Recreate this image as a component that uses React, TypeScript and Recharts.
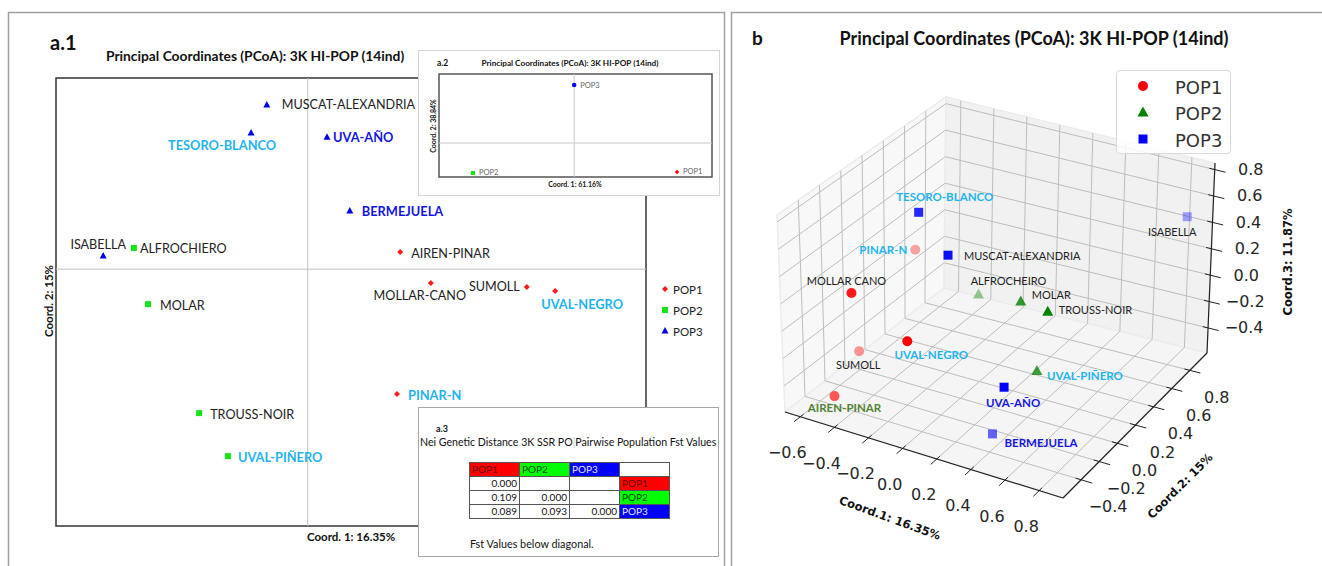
import React from 'react';
import { ScatterChart, Scatter, XAxis, YAxis, ReferenceLine, Customized } from 'recharts';

const FONT = 'Lato, "Liberation Sans", Arial, sans-serif';
const MPL = '"DejaVu Sans", sans-serif';

// ---- a.1: individuals on Coord. 1 / Coord. 2 ----
const indNames = [
  'MUSCAT-ALEXANDRIA', 'TESORO-BLANCO', 'UVA-AÑO', 'BERMEJUELA', 'ISABELLA', 'ALFROCHIERO', 'AIREN-PINAR',
  'MOLLAR-CANO', 'SUMOLL', 'UVAL-NEGRO', 'MOLAR', 'PINAR-N', 'TROUSS-NOIR', 'UVAL-PIÑERO',
];
const indPop = [3, 3, 3, 3, 3, 2, 1, 1, 1, 1, 2, 1, 2, 2];
const coord1 = [-0.104, -0.144, 0.049, 0.107, -0.52, -0.442, 0.235, 0.313, 0.557, 0.629, -0.406, 0.227, -0.276, -0.203];
const coord2 = [0.55, 0.456, 0.442, 0.195, 0.044, 0.071, 0.057, -0.046, -0.06, -0.073, -0.117, -0.418, -0.482, -0.626];

// ---- a.2: population centroids ----
const popNames = ['POP1', 'POP2', 'POP3'];
const popCoord1 = [0.761, -0.749, 0.0];
const popCoord2 = [-0.281, -0.291, 0.563];

// ---- a.3: pairwise Fst (below diagonal) ----
const fstRow1 = [0.0];
const fstRow2 = [0.109, 0.0];
const fstRow3 = [0.089, 0.093, 0.0];

// ---- b: 3D PCoA ----
const b3Names = [
  'TESORO-BLANCO', 'PINAR-N', 'MUSCAT-ALEXANDRIA', 'MOLLAR CANO', 'ALFROCHEIRO', 'MOLAR', 'TROUSS-NOIR',
  'ISABELLA', 'SUMOLL', 'UVAL-NEGRO', 'AIREN-PINAR', 'UVAL-PIÑERO', 'UVA-AÑO', 'BERMEJUELA',
];
const b3Pop = [3, 1, 3, 1, 2, 2, 2, 3, 1, 1, 1, 2, 3, 3];
const b3C1 = [-0.55, -0.67, -0.52, -0.47, -0.38, 0.02, 0.23, 0.83, -0.53, -0.29, -0.49, 0.39, 0.33, 0.44];
const b3C2 = [0.51, 0.67, 0.75, -0.28, 0.83, 0.59, 0.51, 0.91, -0.12, -0.04, -0.44, 0.12, -0.12, -0.44];
const b3C3 = [0.3, -0.11, -0.15, 0.18, -0.45, -0.23, -0.19, 0.46, -0.36, -0.25, -0.49, -0.33, -0.32, -0.42];
const ticks1 = [-0.6, -0.4, -0.2, 0.0, 0.2, 0.4, 0.6, 0.8];
const ticks2 = [-0.4, -0.2, 0.0, 0.2, 0.4, 0.6, 0.8];
const ticks3 = [-0.4, -0.2, 0.0, 0.2, 0.4, 0.6, 0.8];

// colours
const BLACK = '#222';
const SKY = '#1fb4f0';
const NAVY = '#1414e6';
const OLIVE = '#548235';

// label placement (dx, dy, anchor, colour, bold) for a.1
const a1Label: Record<string, [number, number, string, string, boolean]> = {
  'MUSCAT-ALEXANDRIA': [15, 0, 'start', BLACK, false],
  'TESORO-BLANCO': [-29, 12, 'middle', SKY, true],
  'UVA-AÑO': [6, 0, 'start', NAVY, true],
  'BERMEJUELA': [12, 0, 'start', NAVY, true],
  'ISABELLA': [-5, -12, 'middle', BLACK, false],
  'ALFROCHIERO': [6, 1, 'start', BLACK, false],
  'AIREN-PINAR': [11, 1, 'start', BLACK, false],
  'MOLLAR-CANO': [-11, 13, 'middle', BLACK, false],
  'SUMOLL': [-7, -1, 'end', BLACK, false],
  'UVAL-NEGRO': [27, 13, 'middle', SKY, true],
  'MOLAR': [12, 1, 'start', BLACK, false],
  'PINAR-N': [11, 1, 'start', SKY, true],
  'TROUSS-NOIR': [11, 1, 'start', BLACK, false],
  'UVAL-PIÑERO': [10, 1, 'start', SKY, true],
};

// label placement + marker alpha for b
const bLabel: Record<string, [number, number, string, string, boolean, number]> = {
  'TESORO-BLANCO': [26, -16, 'middle', SKY, true, 0.85],
  'PINAR-N': [-8, 0, 'end', SKY, true, 0.35],
  'MUSCAT-ALEXANDRIA': [16, 0, 'start', BLACK, false, 0.95],
  'MOLLAR CANO': [-5, -12, 'middle', BLACK, false, 0.9],
  'ALFROCHEIRO': [30, -14, 'middle', BLACK, false, 0.4],
  'MOLAR': [11, -7, 'start', BLACK, false, 0.8],
  'TROUSS-NOIR': [11, -2, 'start', BLACK, false, 1],
  'ISABELLA': [-15, 15, 'middle', BLACK, false, 0.35],
  'SUMOLL': [-1, 13, 'middle', BLACK, false, 0.4],
  'UVAL-NEGRO': [24, 13, 'middle', SKY, true, 1],
  'AIREN-PINAR': [10, 11, 'middle', OLIVE, true, 0.65],
  'UVAL-PIÑERO': [10, 5, 'start', SKY, true, 0.75],
  'UVA-AÑO': [9, 15, 'middle', NAVY, true, 1],
  'BERMEJUELA': [12, 9, 'start', NAVY, true, 0.6],
};

const a1Data = indNames.map((name, i) => ({ name, pop: indPop[i], x: coord1[i], y: coord2[i] }));
const a2Data = popNames.map((name, i) => ({ name, pop: i + 1, x: popCoord1[i], y: popCoord2[i] }));

// 3D box limits and the screen position of its corners (page px), index = x y z (0 min, 1 max)
const LIM1 = [-0.69, 0.94];
const LIM2 = [-0.6, 0.99];
const LIM3 = [-0.59, 0.85];
const CORNER: Record<string, number[]> = {
  '000': [785, 412], '100': [1063, 498], '010': [944, 288], '110': [1207, 353],
  '001': [777, 215], '101': [1063, 293], '011': [946, 97], '111': [1215, 163],
};
const lerp = (a: number[], b: number[], t: number) => [a[0] + (b[0] - a[0]) * t, a[1] + (b[1] - a[1]) * t];
function project(x: number, y: number, z: number) {
  const u = (x - LIM1[0]) / (LIM1[1] - LIM1[0]);
  const v = (y - LIM2[0]) / (LIM2[1] - LIM2[0]);
  const w = (z - LIM3[0]) / (LIM3[1] - LIM3[0]);
  const c = CORNER;
  const lo = lerp(lerp(c['000'], c['100'], u), lerp(c['010'], c['110'], u), v);
  const hi = lerp(lerp(c['001'], c['101'], u), lerp(c['011'], c['111'], u), v);
  return lerp(lo, hi, w);
}

const bData = b3Names.map((name, i) => {
  const p = project(b3C1[i], b3C2[i], b3C3[i]);
  return { name, pop: b3Pop[i], px: p[0], py: p[1] };
});

const fmt = (t: number) => t.toFixed(1).replace('-', '\u2212');

function a1Marker(pop: number, cx: number, cy: number) {
  if (pop === 1) return <polygon points={`${cx},${cy - 3} ${cx + 3},${cy} ${cx},${cy + 3} ${cx - 3},${cy}`} fill="#ff1a1a" />;
  if (pop === 2) return <rect x={cx - 3} y={cy - 3} width={6} height={6} fill="#14e614" />;
  return <polygon points={`${cx},${cy - 4} ${cx + 3.5},${cy + 2.5} ${cx - 3.5},${cy + 2.5}`} fill="#0000e6" />;
}

const A1Shape = (props: any) => {
  const { cx, cy, payload } = props;
  const [dx, dy, anchor, color, bold] = a1Label[payload.name];
  return (
    <g>
      {a1Marker(payload.pop, cx, cy)}
      <text x={cx + dx} y={cy + dy} textAnchor={anchor} dominantBaseline="central" fill={color}
        fontFamily={FONT} fontSize={bold ? 12.8 : 12.6} fontWeight={bold ? 700 : 400}>{payload.name}</text>
    </g>
  );
};

const A2Shape = (props: any) => {
  const { cx, cy, payload } = props;
  let m;
  if (payload.pop === 1) m = <polygon points={`${cx},${cy - 2.2} ${cx + 2.2},${cy} ${cx},${cy + 2.2} ${cx - 2.2},${cy}`} fill="#ff0000" />;
  else if (payload.pop === 2) m = <rect x={cx - 2} y={cy - 2} width={4} height={4} fill="#00ee00" />;
  else m = <circle cx={cx} cy={cy} r={2.3} fill="#0000ff" />;
  return (
    <g>
      {m}
      <text x={cx + 6} y={cy} dominantBaseline="central" fontFamily={FONT} fontSize={7.5} fill="#666">{payload.name}</text>
    </g>
  );
};

function bMarker(pop: number, cx: number, cy: number, op: number) {
  if (pop === 1) return <circle cx={cx} cy={cy} r={5} fill="#ff0000" fillOpacity={op} />;
  if (pop === 2) return <polygon points={`${cx},${cy - 6} ${cx + 5.5},${cy + 4} ${cx - 5.5},${cy + 4}`} fill="#008000" fillOpacity={op} />;
  return <rect x={cx - 4.5} y={cy - 4.5} width={9} height={9} fill="#0000ff" fillOpacity={op} />;
}

const BShape = (props: any) => {
  const { cx, cy, payload } = props;
  const [dx, dy, anchor, color, bold, op] = bLabel[payload.name];
  return (
    <g>
      {bMarker(payload.pop, cx, cy, op)}
      <text x={cx + dx} y={cy + dy} textAnchor={anchor} dominantBaseline="central" fill={color}
        fontFamily={FONT} fontSize={bold ? 11.5 : 11} fontWeight={bold ? 700 : 400}>{payload.name}</text>
    </g>
  );
};

const pts = (arr: number[][]) => arr.map((p) => `${p[0]},${p[1]}`).join(' ');

const Box3D = () => {
  const [x0, x1] = LIM1;
  const [y0, y1] = LIM2;
  const [z0, z1] = LIM3;
  const rx = x1 - x0;
  const ry = y1 - y0;
  const seg = (a: number[], b: number[], key: string, stroke: string, w: number) => (
    <line key={key} x1={a[0]} y1={a[1]} x2={b[0]} y2={b[1]} stroke={stroke} strokeWidth={w} />
  );
  const grid: any[] = [];
  const GC = '#bdbdbd';
  ticks2.forEach((t, i) => grid.push(seg(project(x0, t, z0), project(x0, t, z1), 'ly' + i, GC, 1)));
  ticks3.forEach((t, i) => grid.push(seg(project(x0, y0, t), project(x0, y1, t), 'lz' + i, GC, 1)));
  ticks1.forEach((t, i) => grid.push(seg(project(t, y1, z0), project(t, y1, z1), 'bx' + i, GC, 1)));
  ticks3.forEach((t, i) => grid.push(seg(project(x0, y1, t), project(x1, y1, t), 'bz' + i, GC, 1)));
  ticks1.forEach((t, i) => grid.push(seg(project(t, y0, z0), project(t, y1, z0), 'fx' + i, GC, 1)));
  ticks2.forEach((t, i) => grid.push(seg(project(x0, t, z0), project(x1, t, z0), 'fy' + i, GC, 1)));
  const AX = '#222';
  return (
    <g transform="translate(-733,-12)">
      <polygon points={pts([project(x0, y0, z0), project(x0, y1, z0), project(x0, y1, z1), project(x0, y0, z1)])}
        fill="#f8f8f8" stroke="#ececec" strokeWidth={1.5} />
      <polygon points={pts([project(x0, y1, z0), project(x1, y1, z0), project(x1, y1, z1), project(x0, y1, z1)])}
        fill="#f1f1f1" stroke="#ececec" strokeWidth={1.5} />
      <polygon points={pts([project(x0, y0, z0), project(x1, y0, z0), project(x1, y1, z0), project(x0, y1, z0)])}
        fill="#f5f5f5" stroke="#ececec" strokeWidth={1.5} />
      {grid}
      {seg(project(x0, y0, z0), project(x1, y0, z0), 'ax1', AX, 1.2)}
      {seg(project(x1, y0, z0), project(x1, y1, z0), 'ax2', AX, 1.2)}
      {seg(project(x1, y1, z0), project(x1, y1, z1), 'ax3', AX, 1.2)}
      {ticks1.map((t, i) => seg(project(t, y0 + 0.02 * ry, z0), project(t, y0 - 0.04 * ry, z0), 't1' + i, AX, 1))}
      {ticks2.map((t, i) => seg(project(x1 - 0.02 * rx, t, z0), project(x1 + 0.04 * rx, t, z0), 't2' + i, AX, 1))}
      {ticks3.map((t, i) => seg(project(x1 - 0.02 * rx, y1, t), project(x1 + 0.04 * rx, y1, t), 't3' + i, AX, 1))}
      {ticks1.map((t, i) => {
        const p = project(t, y0, z0);
        return <text key={'l1' + i} x={p[0] - 13} y={p[1] + 36} textAnchor="middle" dominantBaseline="central"
          fontFamily={MPL} fontSize={16} fill="#262626">{fmt(t)}</text>;
      })}
      {ticks2.map((t, i) => {
        const p = project(x1, t, z0);
        return <text key={'l2' + i} x={p[0] + 27} y={p[1] + 27} textAnchor="middle" dominantBaseline="central"
          fontFamily={MPL} fontSize={16} fill="#262626">{fmt(t)}</text>;
      })}
      {ticks3.map((t, i) => {
        const p = project(x1, y1, t);
        return <text key={'l3' + i} x={p[0] + 36} y={p[1]} textAnchor="middle" dominantBaseline="central"
          fontFamily={MPL} fontSize={16} fill="#262626">{fmt(t)}</text>;
      })}
      <text transform="translate(890,518) rotate(20)" textAnchor="middle" dominantBaseline="central"
        fontFamily={MPL} fontSize={11.5} fontWeight={700} fill="#111">Coord.1: 16.35%</text>
      <text transform="translate(1180,486) rotate(-45)" textAnchor="middle" dominantBaseline="central"
        fontFamily={MPL} fontSize={11.5} fontWeight={700} fill="#111">Coord.2: 15%</text>
      <text transform="translate(1288,262) rotate(-90)" textAnchor="middle" dominantBaseline="central"
        fontFamily={MPL} fontSize={11.5} fontWeight={700} fill="#111">Coord.3: 11.87%</text>
    </g>
  );
};

const cell = (bg: string, color: string, align: string): React.CSSProperties => ({
  background: bg, color, textAlign: align as any, border: '1px solid #555', padding: '0 2px', height: 13,
  lineHeight: '13px', overflow: 'hidden', whiteSpace: 'nowrap',
});

export default function App() {
  const fstRows = [fstRow1, fstRow2, fstRow3];
  const sideBg = ['#ff0000', '#00ff00', '#0000ff'];
  const sideFg = ['#6b0000', '#004400', '#e6e6ff'];
  return (
    <div style={{ position: 'absolute', left: 0, top: 0, width: 1322, height: 566, background: '#fff', overflow: 'hidden' }}>
      <svg width={1322} height={566} style={{ position: 'absolute', left: 0, top: 0 }}>
        <rect x={8.5} y={12.5} width={716} height={620} fill="none" stroke="#a0a0a0" strokeWidth={1.5} />
        <rect x={731.5} y={12.5} width={620} height={620} fill="none" stroke="#a0a0a0" strokeWidth={1.5} />
        <text x={50} y={50} fontFamily={FONT} fontSize={20} fontWeight={700} fill="#111">a.1</text>
        <text x={106} y={55} dominantBaseline="central" fontFamily={FONT} fontSize={13.8} fontWeight={700} fill="#111">
          Principal Coordinates (PCoA): 3K HI-POP (14ind)
        </text>
        <rect x={56} y={78} width={590} height={448} fill="none" stroke="#333" strokeWidth={1.5} />
        <text x={307} y={536} dominantBaseline="central" fontFamily={FONT} fontSize={11.5} fontWeight={700} fill="#111">
          Coord. 1: 16.35%
        </text>
        <text transform="translate(48,301) rotate(-90)" textAnchor="middle" dominantBaseline="central"
          fontFamily={FONT} fontSize={11.5} fontWeight={700} fill="#111">Coord. 2: 15%</text>
        {popNames.map((p, i) => (
          <g key={p}>
            {a1Marker(i + 1, 665, 289 + i * 21)}
            <text x={673} y={289 + i * 21} dominantBaseline="central" fontFamily={FONT} fontSize={11.5} fill={BLACK}>{p}</text>
          </g>
        ))}
        <text x={752} y={45} fontFamily={FONT} fontSize={19} fontWeight={700} fill="#111">b</text>
        <text x={1034} y={45} textAnchor="middle" fontFamily={FONT} fontSize={18} fontWeight={700} fill="#111">
          Principal Coordinates (PCoA): 3K HI-POP (14ind)
        </text>
      </svg>

      {/* a.1 scatter */}
      <div style={{ position: 'absolute', left: 56, top: 78 }}>
        <ScatterChart width={590} height={448} margin={{ top: 0, right: 0, bottom: 0, left: 0 }}>
          <XAxis type="number" dataKey="x" domain={[-0.64, 0.86]} allowDataOverflow hide />
          <YAxis type="number" dataKey="y" domain={[-0.86, 0.64]} allowDataOverflow hide />
          <ReferenceLine x={0} stroke="#c0c0c0" />
          <ReferenceLine y={0} stroke="#c0c0c0" />
          {[1, 2, 3].map((p) => (
            <Scatter key={p} data={a1Data.filter((d) => d.pop === p)} shape={A1Shape} isAnimationActive={false} />
          ))}
        </ScatterChart>
      </div>

      {/* a.2 inset */}
      <svg width={302} height={146} style={{ position: 'absolute', left: 418, top: 50 }}>
        <rect x={0.5} y={0.5} width={301} height={145} fill="#fff" stroke="#d4d4d4" />
        <text x={19} y={13} dominantBaseline="central" fontFamily={FONT} fontSize={8.5} fontWeight={700} fill="#111">a.2</text>
        <text x={152} y={13} textAnchor="middle" dominantBaseline="central" fontFamily={FONT} fontSize={8.2} fontWeight={700} fill="#111">
          Principal Coordinates (PCoA): 3K HI-POP (14ind)
        </text>
        <rect x={21} y={24} width={273} height={103} fill="none" stroke="#555" strokeWidth={1.5} />
        <text x={157} y={134} textAnchor="middle" dominantBaseline="central" fontFamily={FONT} fontSize={7} fontWeight={700} fill="#111">
          Coord. 1: 61.16%
        </text>
        <text transform="translate(15,76) rotate(-90)" textAnchor="middle" dominantBaseline="central"
          fontFamily={FONT} fontSize={7} fontWeight={700} fill="#111">Coord. 2: 38.84%</text>
      </svg>
      <div style={{ position: 'absolute', left: 439, top: 74 }}>
        <ScatterChart width={273} height={103} margin={{ top: 0, right: 0, bottom: 0, left: 0 }}>
          <XAxis type="number" dataKey="x" domain={[-1, 1.02]} allowDataOverflow hide />
          <YAxis type="number" dataKey="y" domain={[-0.33, 0.67]} allowDataOverflow hide />
          <ReferenceLine x={0} stroke="#c8c8c8" />
          <ReferenceLine y={0} stroke="#c8c8c8" />
          <Scatter data={a2Data} shape={A2Shape} isAnimationActive={false} />
        </ScatterChart>
      </div>

      {/* a.3 inset */}
      <svg width={302} height={151} style={{ position: 'absolute', left: 418, top: 407 }}>
        <rect x={0.5} y={0.5} width={300} height={149} fill="#fff" stroke="#a6a6a6" />
        <text x={18} y={21} dominantBaseline="central" fontFamily={FONT} fontSize={9} fontWeight={700} fill="#111">a.3</text>
        <text x={2} y={35} dominantBaseline="central" fontFamily={FONT} fontSize={10.6} fill="#111">
          Nei Genetic Distance 3K SSR PO<tspan fill="#c8c8c8">|</tspan>Pairwise Population Fst Values
        </text>
        <text x={52} y={136} dominantBaseline="central" fontFamily={FONT} fontSize={10.8} fill="#111">Fst Values below diagonal.</text>
      </svg>
      <table style={{ position: 'absolute', left: 469, top: 462, borderCollapse: 'collapse', tableLayout: 'fixed',
        width: 201, fontFamily: FONT, fontSize: 10 }}>
        <colgroup>
          <col style={{ width: 50 }} /><col style={{ width: 50 }} /><col style={{ width: 50 }} /><col style={{ width: 50 }} />
        </colgroup>
        <tbody>
          <tr>
            {popNames.map((p, i) => <td key={p} style={cell(sideBg[i], sideFg[i], 'left')}>{p}</td>)}
            <td style={cell('#fff', '#111', 'left')}></td>
          </tr>
          {fstRows.map((row, r) => (
            <tr key={r}>
              {[0, 1, 2].map((c) => (
                <td key={c} style={cell('#fff', '#111', 'right')}>{c < row.length ? row[c].toFixed(3) : ''}</td>
              ))}
              <td style={cell(sideBg[r], sideFg[r], 'left')}>{popNames[r]}</td>
            </tr>
          ))}
        </tbody>
      </table>

      {/* b: 3D scatter, projected into page pixels */}
      <div style={{ position: 'absolute', left: 733, top: 12 }}>
        <ScatterChart width={589} height={554} margin={{ top: 0, right: 0, bottom: 0, left: 0 }}>
          <XAxis type="number" dataKey="px" domain={[733, 1322]} allowDataOverflow hide />
          <YAxis type="number" dataKey="py" domain={[12, 566]} reversed allowDataOverflow hide />
          <Customized component={<Box3D />} />
          {[1, 2, 3].map((p) => (
            <Scatter key={p} data={bData.filter((d) => d.pop === p)} shape={BShape} isAnimationActive={false} />
          ))}
        </ScatterChart>
      </div>
      <div style={{ position: 'absolute', left: 1116, top: 70, width: 115, height: 84, boxSizing: 'border-box',
        border: '1px solid #d9d9d9', borderRadius: 4, background: 'rgba(255,255,255,0.85)' }}>
        <svg width={113} height={82}>
          {popNames.map((p, i) => (
            <g key={p}>
              {bMarker(i + 1, 26, 15 + i * 26.5, 1)}
              <text x={58} y={16 + i * 26.5} dominantBaseline="central" fontFamily={MPL} fontSize={18} fill="#333">{p}</text>
            </g>
          ))}
        </svg>
      </div>
    </div>
  );
}
